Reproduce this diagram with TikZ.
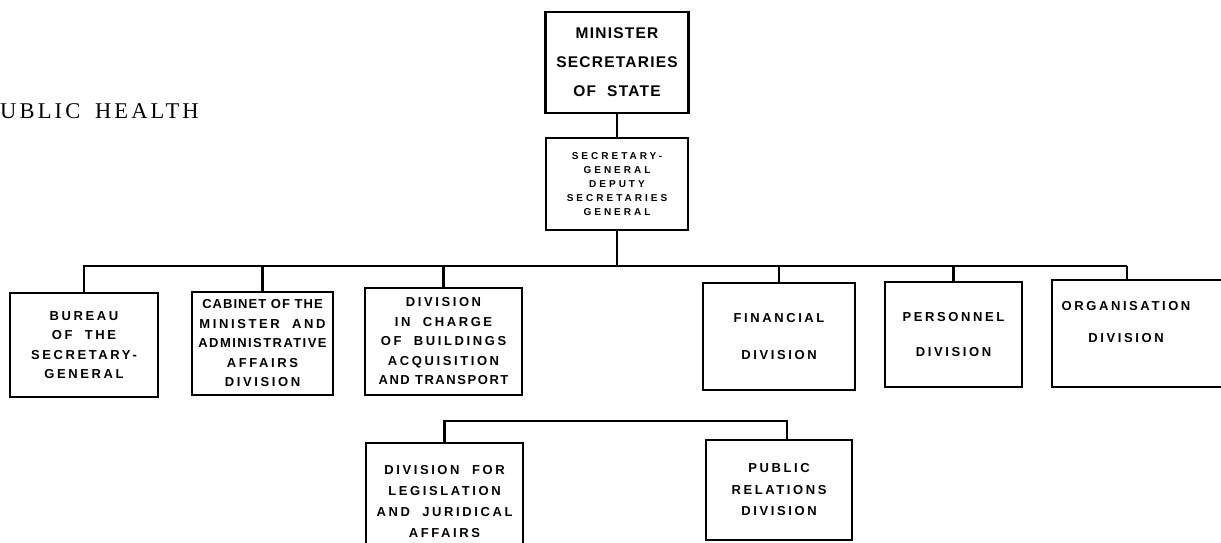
\documentclass[tikz,border=0pt]{standalone}
\usepackage{fontspec}
\setmainfont{Liberation Serif}
\newfontfamily\boxfont[LetterSpace=20]{Liberation Sans}
\newfontfamily\sgfont[LetterSpace=30]{Liberation Sans}
\newfontfamily\titlefont[LetterSpace=14]{Liberation Serif}
\begin{document}
\begin{tikzpicture}[x=1pt,y=-1pt,
  box/.style={draw, line width=2.8pt, inner sep=0pt, align=center},
  rowtext/.style={font=\boxfont\bfseries\fontsize{13}{19.5}\selectfont},
  link/.style={line width=2.2pt}]
\useasboundingbox (0,0) rectangle (1221,542);
\fill[white] (0,0) rectangle (1221,542);

\node[anchor=base west, font=\titlefont\fontsize{22.5}{26}\selectfont, inner sep=0pt] (title) at (0,118) {UBLIC\hspace{6pt} HEALTH};

\node[box, minimum width=143pt, minimum height=101pt,
  font=\boxfont\bfseries\fontsize{15.5}{29}\selectfont] (min) at (617,62.5)
  {\addfontfeatures{LetterSpace=8}MINISTER\\\addfontfeatures{LetterSpace=8}SECRETARIES\\\addfontfeatures{LetterSpace=8}OF\ \ STATE};

\node[box, minimum width=142pt, minimum height=92pt,
  font=\sgfont\bfseries\fontsize{10}{14}\selectfont] (sg) at (617,184)
  {SECRETARY-\\GENERAL\\DEPUTY\\SECRETARIES\\GENERAL};

\node[box, rowtext, minimum width=148pt, minimum height=104pt] (bureau) at (84,345)
  {BUREAU\\OF\ \ THE\\SECRETARY-\\GENERAL};
\node[box, rowtext, minimum width=141pt, minimum height=103pt] (cabinet) at (262.5,343.5)
  {{\addfontfeatures{LetterSpace=8}CABINET OF THE}\\MINISTER\ \ AND\\{\addfontfeatures{LetterSpace=11}ADMINISTRATIVE}\\AFFAIRS\\DIVISION};
\node[box, rowtext, minimum width=157pt, minimum height=107pt] (build) at (443.5,341.5)
  {DIVISION\\IN\ \ CHARGE\\OF\ \ BUILDINGS\\ACQUISITION\\{\addfontfeatures{LetterSpace=12}AND TRANSPORT}};
\node[box, rowtext, minimum width=152pt, minimum height=107pt] (fin) at (779,336.5)
  {FINANCIAL\\[17pt]DIVISION};
\node[box, rowtext, minimum width=137pt, minimum height=105pt] (pers) at (953.5,334.5)
  {PERSONNEL\\[15pt]DIVISION};
\node[box, minimum width=183pt, minimum height=107pt] (org) at (1143.5,333.5) {};
\node[rowtext, align=center, inner sep=0pt] (orgtext) at (1126,322)
  {ORGANISATION\\[13pt]DIVISION};

\node[box, rowtext, minimum width=157pt, minimum height=117pt, font=\boxfont\bfseries\fontsize{13}{21}\selectfont] (leg) at (444.5,501.5)
  {DIVISION\ \ FOR\\LEGISLATION\\AND\ \ JURIDICAL\\AFFAIRS};
\node[box, rowtext, minimum width=146pt, minimum height=100pt, font=\boxfont\bfseries\fontsize{13}{21.5}\selectfont] (pr) at (779,490)
  {PUBLIC\\RELATIONS\\DIVISION};

% connectors
\coordinate (busL) at (83,266);
\coordinate (busR) at (1127,266);
\draw[link] (min.south) -- (sg.north);
\draw[link] (sg.south) -- (sg.south |- busL);
\draw[link] (busL) -- (busR);
\draw[link] (bureau.north) -- (bureau.north |- busL);
\draw[link] (cabinet.north) -- (cabinet.north |- busL);
\draw[link] (build.north) -- (build.north |- busL);
\draw[link] (fin.north) -- (fin.north |- busL);
\draw[link] (pers.north) -- (pers.north |- busL);
\draw[link] (busR) -- (busR |- org.north);

\coordinate (bus2R) at (787,421);
\draw[link] (leg.north) |- (bus2R) -- (bus2R |- pr.north);
\end{tikzpicture}
\end{document}
